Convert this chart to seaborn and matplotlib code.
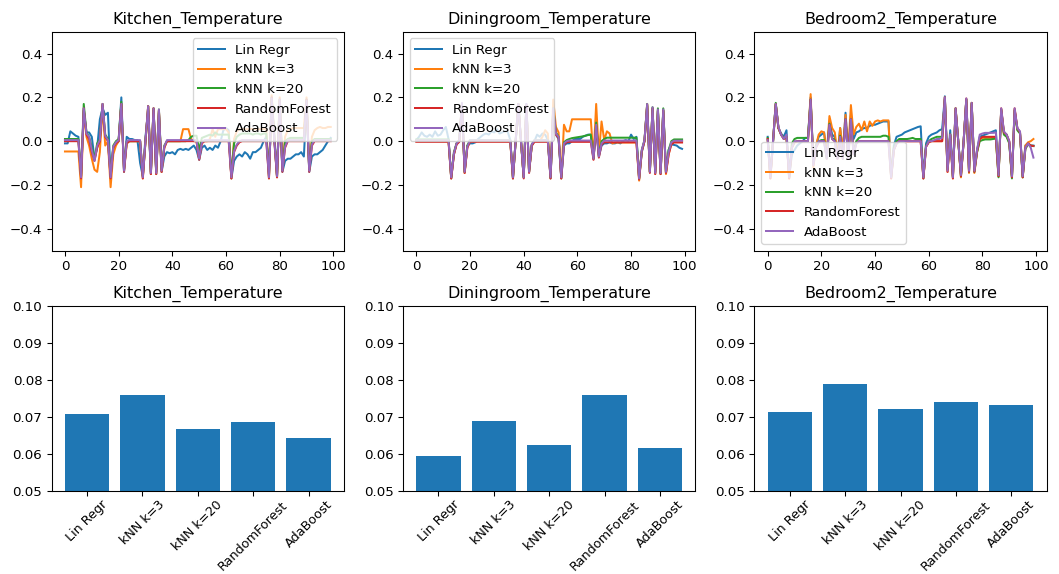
import numpy as np
import pandas as pd
import matplotlib
matplotlib.use("Agg")
import matplotlib.pyplot as plt
import seaborn as sns

models = ["Lin Regr", "kNN k=3", "kNN k=20", "RandomForest", "AdaBoost"]
rooms = ["Kitchen_Temperature", "Diningroom_Temperature", "Bedroom2_Temperature"]

# ---------------- Kitchen residual series ----------------
k_lin = [-0.01, -0.01, 0.045, 0.035, 0.025, 0.02, -0.16, 0.14, 0.04, 0.04,
         0.02, -0.08, -0.03, 0.1, 0.15, 0.12, 0.13, -0.16, -0.03, -0.01,
         0.0, 0.2, -0.14, 0.02, 0.01, 0.01, 0.005, 0.005, -0.1, -0.16,
         0.02, 0.14, -0.15, 0.14, -0.15, 0.13, -0.14, -0.07, -0.05, -0.055,
         -0.05, -0.06, -0.04, -0.035, -0.04, -0.035, -0.04, -0.03, -0.02, -0.04,
         -0.085, -0.03, -0.02, -0.04, -0.03, -0.04, -0.02, -0.03, 0.0, 0.05,
         0.06, 0.05, -0.17, -0.09, -0.07, -0.06, -0.07, -0.05, -0.06, -0.08,
         -0.05, -0.05, -0.04, -0.03, 0.0, 0.02, -0.15, 0.18, 0.03, -0.16,
         0.18, -0.14, -0.09, -0.08, -0.08, -0.07, -0.06, -0.06, -0.05, -0.07,
         0.17, -0.14, -0.07, -0.06, -0.06, -0.05, -0.04, -0.02, 0.0, 0.015]
k_knn3 = [-0.047, -0.047, -0.047, -0.047, -0.047, -0.047, -0.21, 0.14, 0.02, -0.02,
          -0.08, -0.13, -0.14, -0.05, 0.16, -0.02, 0.0, -0.21, -0.06, -0.02,
          0.0, 0.17, -0.13, -0.01, 0.0, 0.0, 0.0, 0.0, 0.0, -0.17,
          0.0, 0.16, -0.15, 0.15, -0.15, 0.14, -0.14, -0.03, 0.0, 0.0,
          0.0, 0.0, 0.0, 0.0, 0.055, 0.055, 0.055, 0.01, 0.0, 0.0,
          -0.08, 0.0, 0.0, 0.0, 0.01, 0.055, 0.02, 0.055, 0.055, 0.055,
          0.055, 0.04, -0.17, 0.01, 0.045, 0.055, 0.055, 0.055, 0.055, 0.055,
          0.055, 0.055, 0.055, 0.055, 0.055, 0.055, -0.17, 0.21, 0.02, -0.165,
          0.2, -0.13, 0.02, 0.05, 0.055, 0.06, 0.06, 0.06, 0.06, 0.06,
          0.2, -0.13, 0.02, 0.05, 0.06, 0.065, 0.06, 0.06, 0.065, 0.065]
k_knn20 = [0.01, 0.01, 0.01, 0.01, 0.01, 0.01, -0.16, 0.17, 0.04, 0.02,
           -0.03, -0.08, -0.01, 0.01, 0.17, 0.03, 0.01, -0.16, -0.02, 0.0,
           0.01, 0.18, -0.13, 0.0, 0.0, 0.0, 0.0, 0.0, 0.0, -0.16,
           0.0, 0.16, -0.14, 0.15, -0.14, 0.145, -0.13, -0.02, 0.0, 0.0,
           0.0, 0.0, 0.0, 0.0, 0.0, 0.0, 0.005, 0.02, 0.025, 0.025,
           -0.04, 0.015, 0.02, 0.025, 0.03, 0.025, 0.04, 0.03, 0.03, 0.03,
           0.03, 0.03, -0.16, -0.01, 0.02, 0.03, 0.035, 0.035, 0.035, 0.035,
           0.03, 0.035, 0.035, 0.03, 0.035, 0.035, -0.16, 0.2, 0.01, -0.16,
           0.19, -0.13, 0.0, 0.01, 0.015, 0.015, 0.015, 0.015, 0.015, 0.015,
           0.19, -0.13, 0.0, 0.01, 0.01, 0.01, 0.01, 0.01, 0.01, 0.01]
k_rf = [0.0, 0.0, 0.0, 0.0, 0.0, 0.0, -0.17, 0.15, 0.03, 0.01,
        -0.05, -0.09, -0.03, 0.0, 0.17, 0.02, 0.0, -0.17, -0.03, -0.01,
        0.0, 0.17, -0.14, -0.01, 0.0, 0.0, 0.0, 0.0, 0.0, -0.17,
        0.0, 0.16, -0.15, 0.15, -0.15, 0.14, -0.14, -0.03, 0.0, 0.0,
        0.0, 0.0, 0.0, 0.0, 0.0, 0.0, 0.0, 0.0, 0.0, 0.0,
        -0.085, -0.01, 0.0, 0.0, 0.0, 0.0, 0.0, 0.0, 0.0, 0.0,
        0.0, 0.0, -0.17, -0.05, -0.02, -0.005, 0.0, 0.0, 0.0, 0.0,
        0.0, 0.0, 0.0, 0.0, 0.0, 0.0, -0.17, 0.2, 0.0, -0.165,
        0.19, -0.14, -0.03, 0.0, 0.0, 0.0, 0.0, 0.0, 0.0, 0.0,
        0.19, -0.14, -0.02, 0.0, 0.0, 0.0, 0.0, 0.0, 0.0, 0.0]
k_ada = [0.005, 0.005, 0.005, 0.005, 0.005, 0.005, -0.165, 0.15, 0.035, 0.02,
         -0.04, -0.09, -0.02, 0.005, 0.17, 0.025, 0.005, -0.165, -0.025, -0.005,
         0.005, 0.17, -0.135, 0.0, 0.005, 0.005, 0.005, 0.005, 0.005, -0.165,
         0.005, 0.16, -0.145, 0.15, -0.145, 0.145, -0.135, -0.025, 0.005, 0.005,
         0.005, 0.005, 0.005, 0.005, 0.005, 0.005, 0.005, 0.005, 0.005, 0.005,
         -0.08, -0.005, 0.005, 0.005, 0.005, 0.005, 0.005, 0.005, 0.005, 0.005,
         0.005, 0.005, -0.165, -0.045, -0.015, 0.0, 0.005, 0.005, 0.005, 0.005,
         0.005, 0.005, 0.005, 0.005, 0.005, 0.005, -0.165, 0.195, 0.005, -0.16,
         0.19, -0.135, -0.025, 0.005, 0.005, 0.005, 0.005, 0.005, 0.005, 0.005,
         0.185, -0.135, -0.015, 0.005, 0.005, 0.005, 0.005, 0.005, 0.005, 0.005]

# ---------------- Diningroom residual series ----------------
d_lin = [0.005, 0.02, 0.04, 0.025, 0.02, 0.03, 0.02, 0.045, 0.025, 0.03,
         0.05, 0.065, 0.01, -0.17, -0.06, -0.01, 0.0, 0.16, -0.14, -0.02,
         -0.01, -0.01, -0.005, 0.01, 0.02, 0.03, 0.035, 0.03, 0.045, 0.04,
         0.055, 0.035, 0.04, 0.045, 0.045, 0.005, -0.17, 0.0, 0.17, 0.0,
         -0.165, 0.17, -0.14, -0.02, 0.0, 0.03, 0.02, 0.035, 0.03, 0.005,
         -0.17, 0.13, 0.03, 0.01, -0.17, -0.02, -0.01, -0.01, 0.0, 0.01,
         0.01, 0.01, 0.02, 0.025, 0.03, 0.03, -0.08, 0.07, -0.07, -0.02,
         -0.01, -0.01, -0.005, -0.01, -0.01, -0.005, -0.01, 0.0, 0.005, 0.0,
         0.03, 0.01, 0.02, -0.17, -0.05, 0.0, 0.16, -0.14, 0.15, -0.145,
         0.14, -0.15, 0.14, -0.145, -0.04, -0.015, -0.017, -0.02, -0.03, -0.035]
d_knn3 = [0.0, 0.0, 0.0, 0.0, 0.0, 0.0, 0.0, 0.0, 0.0, 0.0,
          0.0, 0.0, 0.0, -0.17, -0.06, -0.01, 0.0, 0.17, -0.145, -0.025,
          0.0, 0.0, 0.0, 0.0, 0.0, 0.0, 0.0, 0.0, 0.0, 0.0,
          0.0, 0.0, 0.0, 0.0, 0.0, 0.0, -0.17, 0.0, 0.17, 0.0,
          -0.165, 0.165, -0.14, -0.02, 0.0, 0.0, 0.0, 0.02, 0.05, 0.035,
          -0.17, 0.19, 0.065, 0.04, -0.17, 0.075, 0.045, 0.045, 0.1, 0.1,
          0.1, 0.1, 0.1, 0.1, 0.1, 0.1, -0.08, 0.17, -0.06, 0.09,
          0.005, 0.045, 0.035, -0.01, -0.006, -0.006, -0.006, -0.006, -0.006, -0.006,
          -0.006, -0.006, -0.006, -0.18, -0.045, 0.0, 0.17, -0.14, 0.15, -0.15,
          0.14, -0.15, 0.14, -0.15, -0.06, -0.01, 0.0, 0.0, 0.0, 0.0]
d_knn20 = [0.008, 0.008, 0.008, 0.008, 0.008, 0.008, 0.008, 0.008, 0.008, 0.008,
           0.008, 0.008, 0.008, -0.165, -0.05, -0.01, 0.005, 0.17, -0.14, -0.02,
           0.005, 0.005, 0.005, 0.005, 0.005, 0.005, 0.005, 0.005, 0.005, 0.005,
           0.005, 0.005, 0.005, 0.005, 0.005, 0.005, -0.165, 0.0, 0.17, 0.0,
           -0.165, 0.165, -0.14, -0.015, 0.005, 0.005, 0.005, 0.005, 0.005, 0.005,
           -0.165, 0.15, 0.04, 0.02, -0.165, -0.005, 0.005, 0.01, 0.014, 0.016,
           0.018, 0.02, 0.022, 0.025, 0.028, 0.03, -0.08, 0.085, -0.065, 0.0,
           0.01, 0.016, 0.016, 0.016, 0.016, 0.016, 0.016, 0.016, 0.016, 0.016,
           0.016, 0.016, 0.016, -0.17, -0.04, 0.005, 0.17, -0.14, 0.155, -0.14,
           0.15, -0.145, 0.15, -0.14, -0.04, 0.0, 0.008, 0.008, 0.008, 0.008]
d_rf = [-0.003, -0.003, -0.003, -0.003, -0.003, -0.003, -0.003, -0.003, -0.003, -0.003,
        -0.003, -0.003, -0.003, -0.17, -0.06, -0.015, -0.003, 0.17, -0.145, -0.03,
        -0.003, -0.003, -0.003, -0.003, -0.003, -0.003, -0.003, -0.003, -0.003, -0.003,
        -0.003, -0.003, -0.003, -0.003, -0.003, -0.003, -0.17, 0.0, 0.17, 0.0,
        -0.17, 0.165, -0.145, -0.02, -0.003, -0.003, -0.003, -0.003, -0.003, -0.003,
        -0.17, 0.14, 0.03, 0.015, -0.17, -0.015, -0.005, -0.003, -0.003, -0.003,
        -0.003, -0.003, -0.003, -0.003, -0.003, -0.003, -0.085, 0.07, -0.075, -0.015,
        -0.005, -0.005, -0.005, -0.005, -0.005, -0.005, -0.005, -0.005, -0.005, -0.005,
        -0.005, -0.005, -0.005, -0.175, -0.045, 0.0, 0.165, -0.145, 0.15, -0.15,
        0.14, -0.15, 0.14, -0.145, -0.06, -0.015, -0.006, -0.006, -0.006, -0.006]
d_ada = [0.004, 0.004, 0.004, 0.004, 0.004, 0.004, 0.004, 0.004, 0.004, 0.004,
         0.004, 0.004, 0.004, -0.165, -0.055, -0.01, 0.004, 0.175, -0.14, -0.025,
         0.004, 0.004, 0.004, 0.004, 0.004, 0.004, 0.004, 0.004, 0.004, 0.004,
         0.004, 0.004, 0.004, 0.004, 0.004, 0.004, -0.165, 0.0, 0.17, 0.0,
         -0.165, 0.17, -0.14, -0.015, 0.004, 0.004, 0.004, 0.004, 0.004, 0.004,
         -0.165, 0.15, 0.035, 0.02, -0.165, -0.01, 0.0, 0.003, 0.003, 0.003,
         0.003, 0.003, 0.003, 0.003, 0.003, 0.003, -0.08, 0.075, -0.07, -0.01,
         0.003, 0.003, 0.003, 0.003, 0.003, 0.003, 0.003, 0.003, 0.003, 0.003,
         0.003, 0.003, 0.003, -0.17, -0.04, 0.005, 0.17, -0.14, 0.155, -0.145,
         0.145, -0.145, 0.145, -0.14, -0.05, -0.005, 0.002, 0.002, 0.002, 0.002]

# ---------------- Bedroom2 residual series ----------------
b_lin = [0.02, -0.16, 0.0, 0.17, 0.06, 0.035, 0.02, 0.05, -0.165, -0.06,
         -0.04, -0.02, -0.01, 0.0, 0.015, 0.015, 0.2, -0.1, -0.02, 0.02,
         0.03, 0.04, -0.06, 0.09, 0.03, 0.02, -0.07, 0.06, -0.06, 0.13,
         -0.06, 0.12, 0.01, 0.04, 0.045, 0.055, 0.06, 0.06, 0.07, 0.075,
         0.075, 0.08, 0.085, 0.09, 0.09, 0.09, -0.16, -0.02, 0.02, 0.025,
         0.03, 0.04, 0.045, 0.05, 0.055, 0.06, 0.065, 0.068, -0.17, -0.01,
         0.02, 0.03, 0.035, 0.04, 0.05, 0.055, 0.205, -0.12, 0.05, -0.16,
         0.14, 0.0, -0.15, 0.0, 0.19, -0.13, 0.17, -0.13, -0.04, 0.02,
         0.025, 0.03, 0.035, 0.04, 0.045, 0.05, -0.15, 0.14, 0.04, 0.03,
         -0.005, -0.16, 0.14, 0.06, 0.04, -0.16, -0.02, -0.01, -0.02, -0.02]
b_knn3 = [0.005, -0.17, 0.0, 0.17, 0.06, 0.03, 0.01, 0.02, -0.17, -0.03,
          -0.005, 0.0, 0.0, 0.0, 0.0, 0.0, 0.215, -0.12, -0.02, 0.03,
          0.045, 0.04, -0.06, 0.115, 0.06, 0.04, -0.06, 0.06, -0.04, 0.12,
          -0.05, 0.165, 0.03, 0.065, 0.08, 0.05, 0.09, 0.045, 0.09, 0.07,
          0.09, 0.095, 0.09, 0.095, 0.095, 0.095, -0.17, -0.04, -0.01, 0.0,
          0.0, 0.0, 0.0, 0.0, 0.0, 0.0, 0.0, 0.0, -0.17, -0.025,
          -0.005, 0.0, 0.0, 0.0, 0.0, 0.0, 0.2, -0.14, 0.03, -0.17,
          0.15, 0.0, -0.165, 0.0, 0.19, -0.145, 0.175, -0.145, -0.05, 0.01,
          0.015, 0.015, 0.015, 0.015, 0.015, 0.015, -0.16, 0.145, 0.035, 0.025,
          -0.005, -0.165, 0.145, 0.055, 0.04, -0.165, -0.02, -0.005, 0.0, 0.01]
b_knn20 = [0.015, -0.16, 0.0, 0.175, 0.06, 0.03, 0.015, 0.02, -0.16, -0.01,
           0.01, 0.015, 0.015, 0.015, 0.015, 0.015, 0.19, -0.1, -0.02, 0.0,
           0.005, 0.005, -0.075, 0.08, 0.015, 0.005, -0.075, 0.025, -0.075, 0.1,
           -0.07, 0.1, -0.05, 0.0, 0.015, 0.02, 0.02, 0.02, 0.02, 0.02,
           0.02, 0.02, 0.02, 0.025, 0.025, 0.02, -0.165, -0.03, 0.0, 0.01,
           0.01, 0.01, 0.01, 0.012, 0.015, 0.01, 0.01, 0.01, -0.165, -0.02,
           0.0, 0.01, 0.015, 0.02, 0.02, 0.02, 0.19, -0.13, 0.03, -0.165,
           0.15, 0.0, -0.16, 0.0, 0.19, -0.14, 0.175, -0.14, -0.05, 0.0,
           0.005, 0.008, 0.008, 0.008, 0.01, 0.012, -0.165, 0.145, 0.03, 0.02,
           -0.01, -0.17, 0.14, 0.05, 0.035, -0.165, -0.035, -0.015, -0.02, -0.022]
b_rf = [0.01, -0.17, 0.0, 0.17, 0.06, 0.03, 0.01, 0.02, -0.17, -0.03,
        -0.005, 0.0, 0.0, 0.0, 0.0, 0.0, 0.19, -0.11, -0.03, -0.005,
        0.0, 0.0, -0.08, 0.075, 0.01, 0.0, -0.08, 0.02, -0.08, 0.1,
        -0.08, 0.1, -0.06, -0.01, 0.0, 0.0, 0.0, 0.0, 0.0, 0.0,
        0.0, 0.0, 0.0, 0.0, 0.0, 0.0, -0.17, -0.04, -0.01, 0.0,
        0.0, 0.0, 0.0, 0.0, 0.0, 0.0, 0.0, 0.0, -0.17, -0.025,
        -0.005, 0.0, 0.0, 0.0, 0.0, 0.0, 0.2, -0.14, 0.03, -0.17,
        0.15, 0.0, -0.16, 0.0, 0.195, -0.14, 0.175, -0.14, -0.045, 0.01,
        0.02, 0.02, 0.02, 0.02, 0.02, 0.02, -0.16, 0.15, 0.04, 0.03,
        0.0, -0.165, 0.15, 0.06, 0.04, -0.165, -0.03, -0.01, -0.02, -0.022]
b_ada = [0.005, -0.165, 0.0, 0.17, 0.065, 0.03, 0.01, 0.03, -0.165, -0.03,
         0.0, 0.0, 0.0, 0.0, 0.0, 0.0, 0.19, -0.11, -0.025, 0.0,
         0.0, 0.0, -0.08, 0.075, 0.01, 0.0, -0.08, 0.02, -0.08, 0.1,
         -0.08, 0.1, -0.06, -0.01, 0.0, 0.0, 0.0, 0.0, 0.0, 0.0,
         0.0, 0.0, 0.0, 0.0, 0.0, 0.0, -0.165, -0.04, -0.01, 0.0,
         0.0, 0.0, 0.0, 0.0, 0.0, 0.0, 0.0, 0.0, -0.165, -0.025,
         0.0, 0.0, 0.005, 0.01, 0.01, 0.015, 0.2, -0.135, 0.03, -0.165,
         0.15, 0.0, -0.155, 0.0, 0.195, -0.135, 0.175, -0.135, -0.04, 0.03,
         0.035, 0.038, 0.038, 0.038, 0.038, 0.04, -0.155, 0.15, 0.045, 0.03,
         0.0, -0.16, 0.15, 0.06, 0.045, -0.16, -0.03, -0.01, -0.03, -0.075]

# ---------------- error bars (bottom row) ----------------
kitchen_err = [0.0709, 0.0758, 0.0667, 0.0686, 0.0644]
dining_err = [0.0595, 0.0688, 0.0623, 0.0758, 0.0616]
bedroom_err = [0.0714, 0.0789, 0.0722, 0.0740, 0.0732]

series = [
    [k_lin, k_knn3, k_knn20, k_rf, k_ada],
    [d_lin, d_knn3, d_knn20, d_rf, d_ada],
    [b_lin, b_knn3, b_knn20, b_rf, b_ada],
]
errors = [kitchen_err, dining_err, bedroom_err]
legend_locs = ["upper right", "upper left", "lower left"]

DPI = 96
fig = plt.figure(figsize=(1059 / DPI, 574 / DPI), dpi=DPI)
gs = fig.add_gridspec(2, 3, height_ratios=[219, 185.3],
                      left=0.0488, right=0.9884, top=0.9448, bottom=0.1446,
                      wspace=0.202, hspace=0.272)

for c in range(3):
    ax = fig.add_subplot(gs[0, c])
    for j, m in enumerate(models):
        vals = series[c][j]
        df = pd.DataFrame({"step": np.arange(len(vals)), "resid": vals})
        sns.lineplot(data=df, x="step", y="resid", ax=ax, label=m,
                     color=f"C{j}", linewidth=1.5)
    ax.set_ylim(-0.5, 0.5)
    ax.set_yticks([-0.4, -0.2, 0.0, 0.2, 0.4])
    ax.set_xticks([0, 20, 40, 60, 80, 100])
    ax.set_xlabel("")
    ax.set_ylabel("")
    ax.set_title(rooms[c])
    ax.legend(loc=legend_locs[c])

    axb = fig.add_subplot(gs[1, c])
    dfb = pd.DataFrame({"model": models, "err": errors[c]})
    sns.barplot(data=dfb, x="model", y="err", ax=axb, color="C0",
                saturation=1, width=0.8)
    axb.set_xlim(-0.64, 4.64)
    axb.set_ylim(0.05, 0.1)
    axb.set_yticks([0.05, 0.06, 0.07, 0.08, 0.09, 0.10])
    axb.set_xlabel("")
    axb.set_ylabel("")
    axb.set_title(rooms[c])
    axb.tick_params(axis="x", pad=2, labelsize=9.6)
    plt.setp(axb.get_xticklabels(), rotation=45)

fig.savefig("out.png", dpi=DPI)
